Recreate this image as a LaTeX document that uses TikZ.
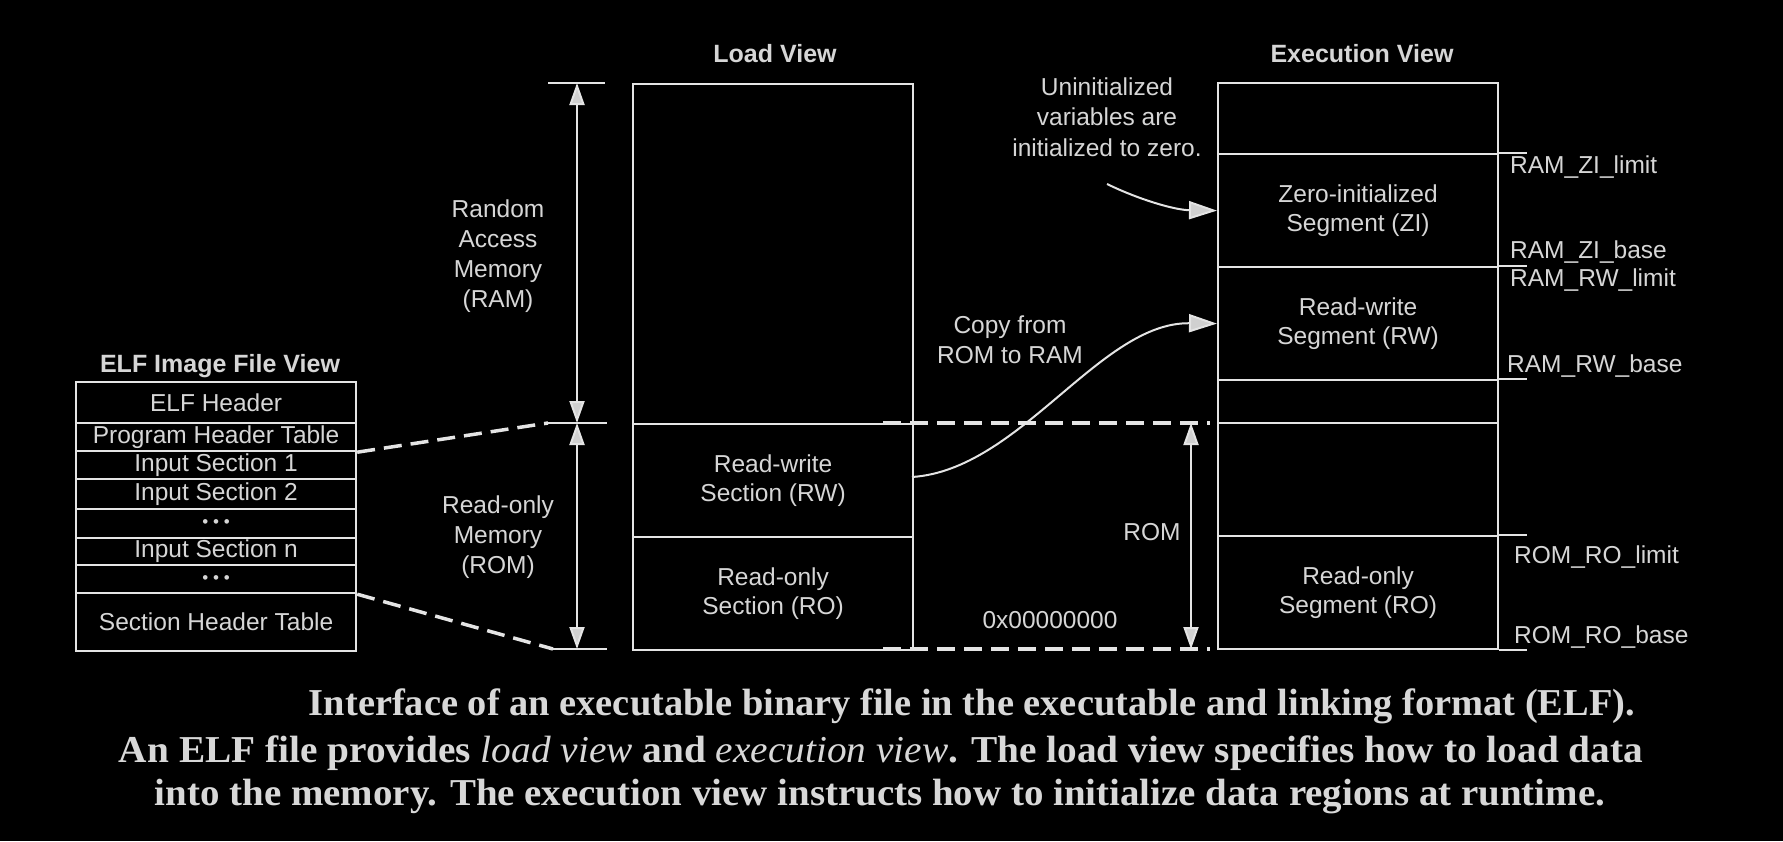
\documentclass[tikz,border=0pt]{standalone}
\usepackage{fontspec}
\usepackage{graphicx}
\setmainfont{Liberation Serif}
\newfontfamily\arialf{Liberation Sans}
\usetikzlibrary{arrows.meta}
\definecolor{linec}{HTML}{E4E4E4}
\definecolor{txtc}{HTML}{D6D6D6}
\definecolor{capc}{HTML}{D8D8D8}
\definecolor{tipfill}{HTML}{D0D0D0}
\begin{document}
\begin{tikzpicture}[x=1pt,y=-1pt,
  lbl/.style={font=\arialf\fontsize{24.5}{29}\selectfont, text=txtc, align=center, inner sep=0pt},
  ttl/.style={font=\arialf\bfseries\fontsize{25}{29}\selectfont, text=txtc, inner sep=0pt, anchor=base},
  sig/.style={font=\arialf\fontsize{24.5}{29}\selectfont, text=txtc, inner sep=0pt, anchor=base west},
  box/.style={draw=linec, line width=2.2pt, anchor=north west, inner sep=0pt, minimum width=280pt},
  ln/.style={draw=linec, line width=2.2pt},
  dsh/.style={draw=linec, line width=3.5pt, dash pattern=on 18pt off 9pt},
  dimarrow/.style={draw=linec, line width=2pt, {Triangle[length=22pt,width=15pt,fill=tipfill]}-{Triangle[length=22pt,width=15pt,fill=tipfill]}},
  cur/.style={draw=linec, line width=2pt, -{Triangle[length=28pt,width=18pt,fill=tipfill]}},
  captxt/.style={font=\bfseries\fontsize{38}{45}\selectfont, text=capc, inner sep=0pt, anchor=base},
  dotsf/.style={font=\arialf\fontsize{17}{20}\selectfont},
]
\fill[black] (0,0) rectangle (1783,841);
\useasboundingbox (0,0) rectangle (1783,841);

% ---------- ELF image file view ----------
\node[ttl] (elfttl) at (220,372) {ELF Image File View};
\node[box, minimum height=41pt, lbl] (elfhdr) at (75,381) {ELF Header};
\node[box, minimum height=28pt, lbl] (pht) at (75,422) {Program Header Table};
\node[box, minimum height=28pt, lbl] (is1) at (75,450) {Input Section 1};
\node[box, minimum height=30pt, lbl] (is2) at (75,478) {Input Section 2};
\node[box, minimum height=29pt, lbl, dotsf] (dots1) at (75,508) {• • •};
\node[box, minimum height=27pt, lbl] (isn) at (75,537) {Input Section n};
\node[box, minimum height=28pt, lbl, dotsf] (dots2) at (75,564) {• • •};
\node[box, minimum height=58pt, lbl] (sht) at (75,592) {Section Header Table};

% ---------- left dimension arrows ----------
\coordinate (ramtop) at (577,83);
\coordinate (ramrom) at (577,423);
\coordinate (rombot) at (577,649);
\coordinate (t1a) at (548,83);   \coordinate (t1b) at (605,83);
\coordinate (t2a) at (548,423);  \coordinate (t2b) at (607,423);
\coordinate (t3a) at (553,649);  \coordinate (t3b) at (607,649);
\draw[ln] (t1a) -- (t1b);
\draw[ln] (t2a) -- (t2b);
\draw[ln] (t3a) -- (t3b);
\draw[dimarrow] (ramtop) -- (ramrom);
\draw[dimarrow] (ramrom) -- (rombot);
\node[lbl, font=\arialf\fontsize{24.5}{30}\selectfont] (ramlbl) at (498,256) {Random\\Access\\Memory\\(RAM)};
\node[lbl, font=\arialf\fontsize{24.5}{30}\selectfont] (romlbl) at (498,537) {Read-only\\Memory\\(ROM)};

\draw[dsh] (pht.south east) -- (t2a);
\draw[dsh] (dots2.south east) -- (t3a);

% ---------- load view ----------
\node[ttl] (loadttl) at (775,62) {Load View};
\node[box, minimum height=566pt] (load) at (632,83) {};
\node[box, minimum height=113pt, lbl] (lrw) at (632,423) {Read-write\\Section (RW)};
\node[box, minimum height=113pt, lbl] (lro) at (632,536) {Read-only\\Section (RO)};

% ---------- execution view ----------
\node[ttl] (execttl) at (1362,62) {Execution View};
\node[box, minimum height=566pt] (exec) at (1217,82) {};
\node[box, minimum height=113pt, lbl] (ezi) at (1217,153) {Zero-initialized\\Segment (ZI)};
\node[box, minimum height=113pt, lbl] (erw) at (1217,266) {Read-write\\Segment (RW)};
\node[box, minimum height=43pt] (egap) at (1217,379) {};
\node[box, minimum height=113pt] (efree) at (1217,422) {};
\node[box, minimum height=113pt, lbl] (ero) at (1217,535) {Read-only\\Segment (RO)};
\draw[ln] (ezi.north east) -- ++(28,0);
\draw[ln] (erw.north east) -- ++(28,0);
\draw[ln] (egap.north east) -- ++(28,0);
\draw[ln] (ero.north east) -- ++(28,0);
\draw[ln] (ero.south east) -- ++(28,0);

\node[sig] (zilim) at (1510,173) {RAM\_ZI\_limit};
\node[sig] (zibase) at (1510,258) {RAM\_ZI\_base};
\node[sig] (rwlim) at (1510,286) {RAM\_RW\_limit};
\node[sig] (rwbase) at (1507,372) {RAM\_RW\_base};
\node[sig] (rolim) at (1514,563) {ROM\_RO\_limit};
\node[sig] (robase) at (1514,643) {ROM\_RO\_base};

% ---------- middle ----------
\coordinate (d1a) at (883,423); \coordinate (d1b) at (1210,423);
\coordinate (d2a) at (883,649); \coordinate (d2b) at (1210,649);
\draw[dsh] (d1a) -- (d1b);
\draw[dsh] (d2a) -- (d2b);
\coordinate (romtop) at (1191,423);
\coordinate (rombase) at (1191,649);
\draw[dimarrow] (romtop) -- (rombase);
\node[lbl] (romtxt) at (1152,532) {ROM};
\node[lbl] (zero) at (1050,620) {0x00000000};

\node[lbl, font=\arialf\fontsize{24.5}{30.5}\selectfont] (uninit) at (1107,117) {Uninitialized\\variables are\\initialized to zero.};
\coordinate (unstart) at (1107,184);
\draw[cur] (unstart) .. controls (1140,200) and (1175,210) .. (ezi.west);

\node[lbl, font=\arialf\fontsize{24.5}{30}\selectfont] (copytxt) at (1010,340) {Copy from\\ROM to RAM};
\coordinate (cpstart) at (912,477);
\draw[cur] (cpstart) .. controls (1020,470) and (1100,322) .. (erw.west);

% ---------- caption ----------
\node[captxt] (cap1) at (972,715) {\resizebox{1326pt}{\height}{Interface of an executable binary file in the executable and linking format (ELF).}};
\node[captxt] (cap2) at (881,762) {\resizebox{1524pt}{\height}{An ELF file provides {\mdseries\itshape load view} and {\mdseries\itshape execution view}. The load view specifies how to load data}};
\node[captxt] (cap3) at (880,805) {\resizebox{1450pt}{\height}{into the memory. The execution view instructs how to initialize data regions at runtime.}};
\end{tikzpicture}
\end{document}
